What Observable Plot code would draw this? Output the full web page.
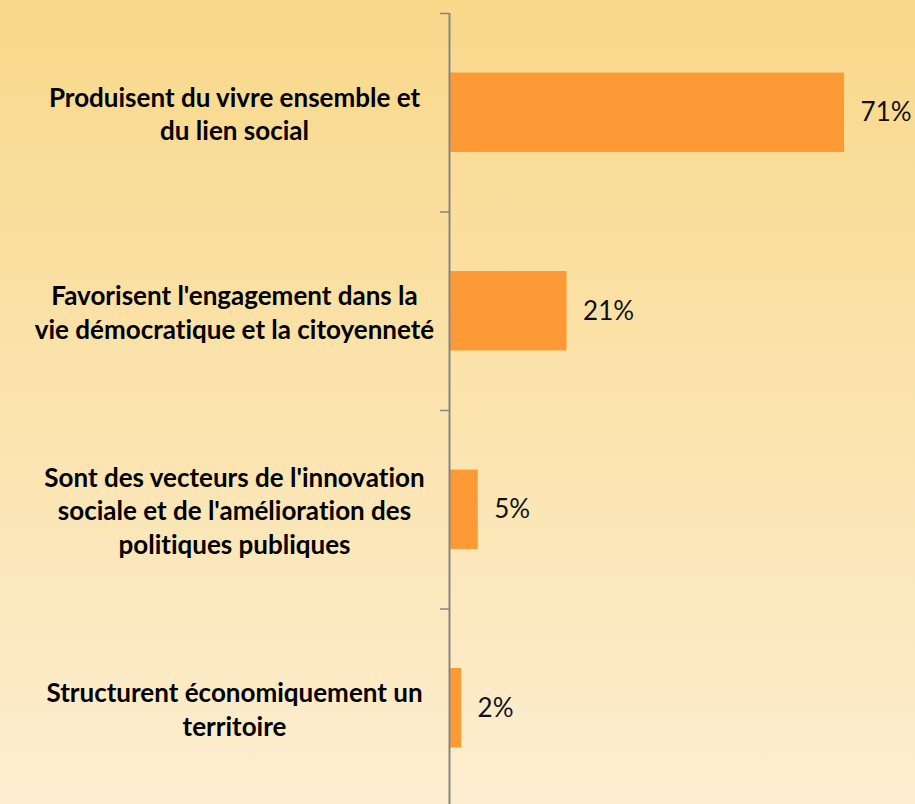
<!DOCTYPE html>
<html>
<head>
<meta charset="utf-8">
<script src="https://cdn.jsdelivr.net/npm/d3@7"></script>
<script src="https://cdn.jsdelivr.net/npm/@observablehq/plot@0.6"></script>
<style>
  html, body { margin: 0; padding: 0; overflow: hidden; }
  body { width: 915px; height: 804px; background: linear-gradient(to bottom, #f9d88a, #fdeed0); }
  svg text { font-variant-ligatures: none; font-feature-settings: "liga" 0; }
</style>
</head>
<body>
<div id="chart"></div>
<script>
const categories = [
  "Produisent du vivre ensemble et\ndu lien social",
  "Favorisent l'engagement dans la\nvie démocratique et la citoyenneté",
  "Sont des vecteurs de l'innovation\nsociale et de l'amélioration des\npolitiques publiques",
  "Structurent économiquement un\nterritoire"
];
const values = [71, 21, 5, 2];
const valueLabels = ["71%", "21%", "5%", "2%"];
const boundaryTicks = [0, 1, 2, 3, 4];

const data = categories.map((c, i) => ({idx: i, cat: c, value: values[i], label: valueLabels[i]}));

const chart = Plot.plot({
  width: 915,
  height: 804,
  marginTop: 13,
  marginBottom: 0,
  marginLeft: 450,
  marginRight: 0,
  style: {background: "transparent", fontFamily: "Lato, 'Open Sans', sans-serif"},
  x: {type: "linear", domain: [0, 80], range: [450, 450 + 80 * 5.55], axis: null},
  y: {type: "linear", domain: [0, 4], range: [13, 807]},
  marks: [
    Plot.rect(data, {
      x1: 0, x2: "value",
      y1: d => d.idx + 0.3, y2: d => d.idx + 0.7,
      fill: "#fd9a36"
    }),
    Plot.axisY({ticks: boundaryTicks, tickSize: 9, tickFormat: () => "", stroke: "#868686", strokeWidth: 1.5, dx: -1, label: null}),
    Plot.ruleX([0], {stroke: "#868686", strokeWidth: 2, dx: -1}),
    Plot.text(data, {
      x: "value", y: d => d.idx + 0.5, text: "label",
      textAnchor: "start", dx: 16, fontSize: 26, fill: "#111"
    }),
    Plot.text(data, {
      y: d => d.idx + 0.5, text: "cat",
      frameAnchor: "left", dx: -216, textAnchor: "middle", lineAnchor: "middle",
      fontSize: 26, fontWeight: "bold", lineHeight: 1.29, fill: "#000"
    })
  ]
});
document.getElementById("chart").appendChild(chart);
</script>
</body>
</html>
